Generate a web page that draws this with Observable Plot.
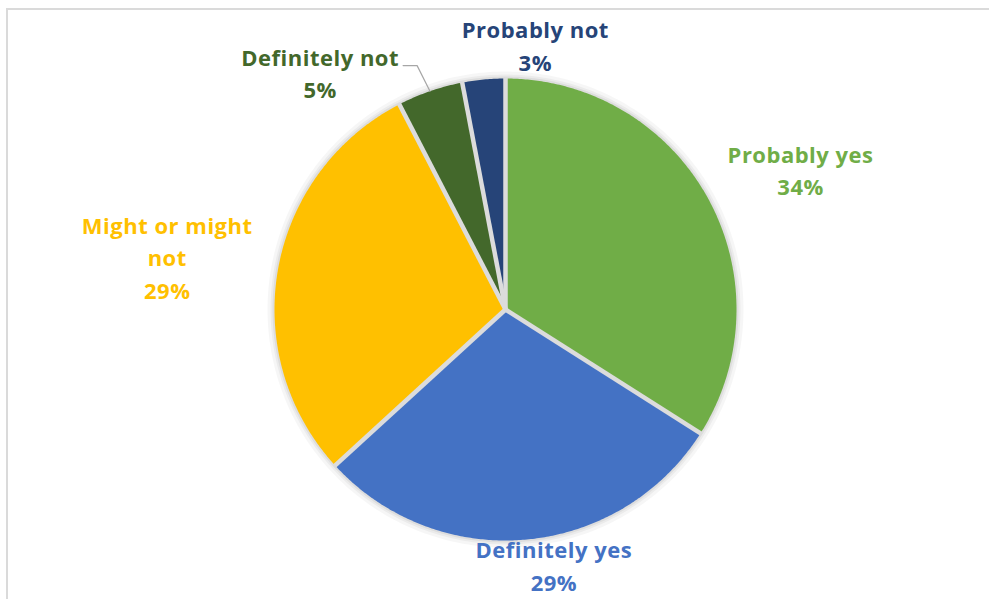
<!DOCTYPE html>
<html><head><meta charset="utf-8">
<script src="https://cdn.jsdelivr.net/npm/d3@7"></script>
<script src="https://cdn.jsdelivr.net/npm/@observablehq/plot@0.6"></script>
<style>
html,body{margin:0;padding:0;background:#fff;}
#wrap{position:relative;width:989px;height:599px;overflow:hidden;}
#frame{position:absolute;left:6px;top:8px;width:1000px;height:700px;border-top:2px solid #dadada;border-left:2px solid #dadada;pointer-events:none;}
#chart svg text{letter-spacing:0.5px;}
</style></head><body>
<div id="wrap"><div id="chart"></div><div id="frame"></div></div>
<script>
// ---- data ----
const categories = ["Probably yes", "Definitely yes", "Might or might not", "Definitely not", "Probably not"];
const labelLines = ["Probably yes", "Definitely yes", "Might or might\nnot", "Definitely not", "Probably not"];
const values = [34.0, 29.2, 29.2, 4.6, 3.0];
const colors = ["#70AD47", "#4472C4", "#FFC000", "#43682B", "#264478"];

// ---- layout ----
const W = 989, H = 599, cx = 505, cy = 309, R = 231;
const labelRadius = R * 1.25;
const labelNudge = [[42, -2], [23, -33], [-54, -3], [-91, 35], [57, 22]];
const leaderFor = ["Definitely not"];

const arcs = d3.pie().sort(null).value(d => d)(values);
const pt = (a, r) => [cx + r * Math.sin(a), cy - r * Math.cos(a)];

// slice polygons (one array per slice)
const slices = arcs.map((a, i) => {
  const name = categories[i];
  const pts = [{name, x: cx, y: cy}];
  const n = Math.max(4, Math.ceil((a.endAngle - a.startAngle) / (Math.PI / 360)));
  for (let k = 0; k <= n; k++) {
    const t = a.startAngle + (a.endAngle - a.startAngle) * k / n;
    const [x, y] = pt(t, R);
    pts.push({name, x, y});
  }
  pts.push({name, x: cx, y: cy});
  return pts;
});

// outline circle for the soft shadow
const ring = d3.range(0, 361, 1).map(d => {
  const [x, y] = pt(d * Math.PI / 180, R);
  return {x, y};
});

// separators
const seps = arcs.map(a => {
  const [x2, y2] = pt(a.startAngle, R + 1);
  return {x1: cx, y1: cy, x2, y2};
});

// labels
const labels = arcs.map((a, i) => {
  const mid = (a.startAngle + a.endAngle) / 2;
  const [bx, by] = pt(mid, labelRadius);
  return {
    name: categories[i],
    text: labelLines[i] + "\n" + Math.round(values[i] / d3.sum(values) * 100) + "%",
    x: bx + labelNudge[i][0],
    y: by + labelNudge[i][1],
    mid
  };
});

// leader lines
const leaders = [];
labels.forEach(l => {
  if (!leaderFor.includes(l.name)) return;
  const [ax, ay] = pt(l.mid, R);
  leaders.push({name: l.name, x: ax, y: ay});
  leaders.push({name: l.name, x: l.x + 97, y: l.y - 6});
  leaders.push({name: l.name, x: l.x + 83, y: l.y - 6});
});

const chart = Plot.plot({
  width: W, height: H,
  margin: 0,
  x: {domain: [0, W], range: [0, W], axis: null},
  y: {domain: [0, H], range: [0, H], axis: null},
  color: {domain: categories, range: colors},
  style: {background: "transparent", overflow: "visible"},
  marks: [
    Plot.line(ring, {x: "x", y: "y", stroke: "#000", strokeOpacity: 0.035, strokeWidth: 14}),
    Plot.line(ring, {x: "x", y: "y", stroke: "#000", strokeOpacity: 0.045, strokeWidth: 8}),
    Plot.line(ring, {x: "x", y: "y", stroke: "#000", strokeOpacity: 0.06, strokeWidth: 4}),
    ...slices.map((s, i) => Plot.line(s, {x: "x", y: "y", fill: colors[i], stroke: "none", curve: "linear-closed"})),
    Plot.link(seps, {x1: "x1", y1: "y1", x2: "x2", y2: "y2", stroke: "#dcdcdc", strokeWidth: 4.5, strokeLinecap: "butt"}),
    Plot.line(leaders, {x: "x", y: "y", z: "name", stroke: "#a6a6a6", strokeWidth: 1.2, curve: "linear"}),
    Plot.text(labels, {
      x: "x", y: "y", text: "text", fill: "name",
      fontSize: 22, fontWeight: "bold", fontFamily: "Open Sans",
      lineHeight: 1.48, textAnchor: "middle", lineAnchor: "middle"
    })
  ]
});
document.getElementById("chart").appendChild(chart);
</script>
</body></html>
